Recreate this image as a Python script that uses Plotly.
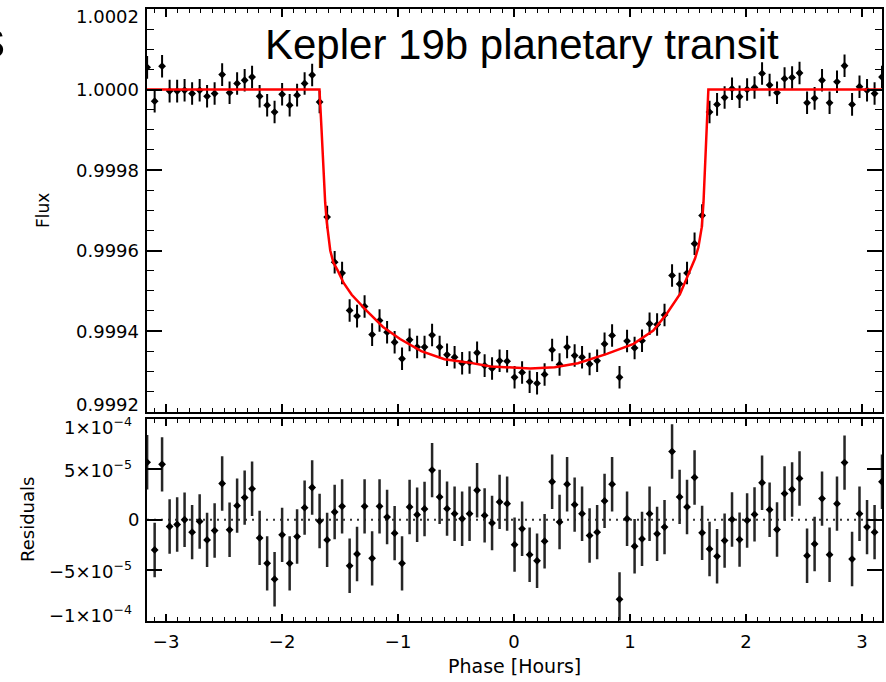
import plotly.graph_objects as go

W, H = 886, 682

# ---------------- data ----------------
phase = [-3.164, -3.099, -3.035, -2.970, -2.905, -2.841, -2.776, -2.711, -2.647, -2.582,
         -2.517, -2.453, -2.388, -2.323, -2.259, -2.194, -2.129, -2.065, -2.000, -1.935,
         -1.871, -1.806, -1.741, -1.677, -1.612, -1.547, -1.483, -1.418, -1.354, -1.289,
         -1.224, -1.160, -1.095, -1.030, -0.966, -0.901, -0.836, -0.772, -0.707, -0.642,
         -0.578, -0.513, -0.448, -0.384, -0.319, -0.254, -0.190, -0.125, -0.060, 0.004,
         0.069, 0.134, 0.198, 0.263, 0.328, 0.392, 0.457, 0.522, 0.586, 0.651,
         0.716, 0.780, 0.845, 0.909, 0.974, 1.039, 1.103, 1.168, 1.233, 1.297,
         1.362, 1.427, 1.491, 1.556, 1.621, 1.685, 1.750, 1.815, 1.879, 1.944,
         2.009, 2.073, 2.138, 2.203, 2.267, 2.332, 2.397, 2.461, 2.526, 2.591,
         2.655, 2.720, 2.784, 2.849, 2.914, 2.978, 3.043, 3.108, 3.172]

flux = [1.000055, 0.999971, 1.000058, 0.999996, 0.999996, 0.999998, 0.999990, 0.999998, 0.999983, 0.999990,
        1.000037, 0.999992, 1.000015, 1.000023, 1.000031, 0.999983, 0.999961, 0.999944, 0.999988, 0.999961,
        0.999986, 1.000015, 1.000036, 0.999969, 0.999683, 0.999571, 0.999544, 0.999451, 0.999437, 0.999461,
        0.999391, 0.999426, 0.999397, 0.999372, 0.999331, 0.999378, 0.999360, 0.999360, 0.999390, 0.999360,
        0.999341, 0.999335, 0.999320, 0.999322, 0.999346, 0.999314, 0.999307, 0.999326, 0.999325, 0.999285,
        0.999297, 0.999274, 0.999270, 0.999292, 0.999353, 0.999317, 0.999360, 0.999339, 0.999335, 0.999318,
        0.999326, 0.999368, 0.999389, 0.999285, 0.999375, 0.999358, 0.999376, 0.999418, 0.999416, 0.999440,
        0.999538, 0.999517, 0.999544, 0.999617, 0.999687, 0.999944, 0.999963, 0.999980, 1.000002, 0.999982,
        1.000000, 1.000005, 1.000040, 1.000011, 0.999992, 1.000027, 1.000030, 1.000041, 0.999967, 0.999978,
        1.000023, 0.999967, 1.000019, 1.000059, 0.999963, 1.000007, 0.999998, 0.999990, 1.000031]

residuals = [5.7e-5, -3.0e-5, 5.5e-5, -0.67e-5, -0.47e-5, 0.0, -1.23e-5, -0.17e-5, -2.0e-5, -1.07e-5,
             3.6e-5, -1.0e-5, 1.4e-5, 2.2e-5, 3.07e-5, -1.8e-5, -4.33e-5, -5.9e-5, -1.5e-5, -4.33e-5,
             -1.67e-5, 1.2e-5, 3.2e-5, -0.13e-5, -2.0e-5, 0.77e-5, 1.33e-5, -4.57e-5, -3.4e-5, 1.33e-5,
             -3.83e-5, 1.33e-5, 0.27e-5, -1.33e-5, -4.33e-5, 1.27e-5, 0.5e-5, 1.07e-5, 4.93e-5, 2.27e-5,
             1.1e-5, 0.6e-5, 0.1e-5, 0.6e-5, 2.93e-5, 0.43e-5, -0.33e-5, 1.77e-5, 1.6e-5, -2.47e-5,
             -0.9e-5, -3.47e-5, -4.07e-5, -2.13e-5, 3.77e-5, -0.23e-5, 3.53e-5, 1.5e-5, 0.6e-5, -1.57e-5,
             -1.23e-5, 1.87e-5, 3.53e-5, -7.9e-5, 0.1e-5, -2.63e-5, -1.9e-5, 0.6e-5, -1.4e-5, -0.73e-5,
             6.77e-5, 2.27e-5, 1.27e-5, 4.2e-5, -1.3e-5, -2.9e-5, -3.63e-5, -2.07e-5, 0.03e-5, -1.97e-5,
             -0.07e-5, 0.53e-5, 3.67e-5, 1.0e-5, -0.97e-5, 2.6e-5, 3.0e-5, 4.1e-5, -3.57e-5, -2.4e-5,
             2.1e-5, -3.47e-5, 1.6e-5, 5.67e-5, -3.9e-5, 0.6e-5, -0.73e-5, -1.23e-5, 3.77e-5]

flux_err = 2.8e-5
res_err = 2.7e-5

model_phase = [-3.17, -1.678, -1.660, -1.645, -1.629, -1.615, -1.600, -1.585, -1.558, -1.520,
               -1.471, -1.400, -1.270, -1.130, -0.983, -0.800, -0.600, -0.400, -0.200, 0.000,
               0.140, 0.350, 0.550, 0.800, 1.030, 1.200, 1.316, 1.431, 1.517, 1.560,
               1.589, 1.618, 1.633, 1.647, 1.662, 1.675, 3.17]
model_flux = [1.0, 1.0, 0.99990, 0.99980, 0.99972, 0.99967, 0.99964, 0.99960, 0.99957, 0.99955,
              0.99952, 0.99949, 0.99945, 0.99941, 0.99938, 0.99935, 0.99933, 0.999322, 0.999312, 0.999308,
              0.999307, 0.99931, 0.99932, 0.999343, 0.999368, 0.999401, 0.999443, 0.999492, 0.99955, 0.99958,
              0.999608, 0.999658, 0.99972, 0.999807, 0.99990, 1.0, 1.0]

phase_ticks = [-3, -2, -1, 0, 1, 2, 3]
flux_ticks = [0.9992, 0.9994, 0.9996, 0.9998, 1.0000, 1.0002]
flux_tick_text = ["0.9992", "0.9994", "0.9996", "0.9998", "1.0000", "1.0002"]
res_ticks = [-1e-4, -5e-5, 0.0, 5e-5, 1e-4]
res_tick_text = ["\u22121\u00d710<sup>\u22124</sup>", "\u22125\u00d710<sup>\u22125</sup>", "0",
                 "5\u00d710<sup>\u22125</sup>", "1\u00d710<sup>\u22124</sup>"]

title_text = "Kepler 19b planetary transit"

# ---------------- layout helpers ----------------
def px_x(p):
    return p / W

def px_y(p):
    return 1 - p / H

XR = [-3.165, 3.172]
FONT = "DejaVu Sans"

fig = go.Figure()

fig.add_trace(go.Scatter(
    x=phase, y=flux, mode="markers", xaxis="x", yaxis="y",
    marker=dict(symbol="diamond", size=6, color="black"),
    error_y=dict(type="constant", value=flux_err, thickness=2, width=0, color="black"),
    showlegend=False, hoverinfo="skip"))

fig.add_trace(go.Scatter(
    x=model_phase, y=model_flux, mode="lines", xaxis="x", yaxis="y",
    line=dict(color="#ff0000", width=2.5), showlegend=False, hoverinfo="skip"))

fig.add_trace(go.Scatter(
    x=phase, y=residuals, mode="markers", xaxis="x2", yaxis="y2",
    marker=dict(symbol="diamond", size=6, color="black"),
    error_y=dict(type="constant", value=res_err, thickness=2.5, width=0, color="#262626"),
    showlegend=False, hoverinfo="skip"))

axis_common = dict(showline=True, linewidth=2, linecolor="black", mirror="allticks",
                   showgrid=False, zeroline=False, ticks="inside", tickcolor="black")

fig.update_layout(
    width=W, height=H, margin=dict(l=0, r=0, t=0, b=0),
    paper_bgcolor="white", plot_bgcolor="white",
    font=dict(family=FONT, color="black", size=17),
    xaxis=dict(domain=[px_x(147), px_x(882)], range=XR, anchor="y",
               tickvals=phase_ticks, showticklabels=False, ticklen=8, tickwidth=1.5,
               minor=dict(ticks="inside", ticklen=4, dtick=0.1, tick0=0, tickcolor="black", tickwidth=1.2),
               **axis_common),
    yaxis=dict(domain=[px_y(411.5), px_y(9)], range=[0.9992, 1.0002], anchor="x",
               tickvals=flux_ticks, showticklabels=False, ticklen=15, tickwidth=1.5,
               minor=dict(ticks="inside", ticklen=7, dtick=0.00005, tick0=0.9992, tickcolor="black", tickwidth=1.2),
               **axis_common),
    xaxis2=dict(domain=[px_x(147), px_x(882)], range=XR, anchor="y2",
                tickvals=phase_ticks, ticklen=7, tickwidth=1.5, ticklabelstandoff=4,
                tickfont=dict(family=FONT, size=18, color="black"),
                minor=dict(ticks="inside", ticklen=4, dtick=0.1, tick0=0, tickcolor="black", tickwidth=1.2),
                **axis_common),
    yaxis2=dict(domain=[px_y(620.5), px_y(419)], range=[-1e-4, 1e-4], anchor="x2",
                tickvals=res_ticks, showticklabels=False, ticklen=15, tickwidth=1.5,
                **axis_common),
)

fig.add_shape(type="line", xref="x2 domain", yref="y2", x0=0, x1=1, y0=0, y1=0,
              line=dict(color="#333333", width=2, dash="2px,5px"), layer="below")

ann = []
# y tick labels, top panel
for v, t in zip(flux_ticks, flux_tick_text):
    shift = 0
    if v == flux_ticks[-1]:
        shift = -8
    elif v == flux_ticks[0]:
        shift = 7
    ann.append(dict(x=px_x(141), xref="paper", y=v, yref="y", text=t, showarrow=False,
                    xanchor="right", yanchor="middle", yshift=shift,
                    font=dict(family=FONT, size=18, color="black")))
# y tick labels, bottom panel
for v, t in zip(res_ticks, res_tick_text):
    shift = 0
    if v == res_ticks[-1]:
        shift = -7
    elif v == res_ticks[0]:
        shift = 7
    xr = 141 if t == "0" else 134
    ann.append(dict(x=px_x(xr), xref="paper", y=v, yref="y2", text=t, showarrow=False,
                    xanchor="right", yanchor="middle", yshift=shift,
                    font=dict(family=FONT, size=18, color="black")))

# axis titles
ann.append(dict(x=px_x(43), y=px_y(211), xref="paper", yref="paper", text="Flux", textangle=-90,
                showarrow=False, xanchor="center", yanchor="middle",
                font=dict(family=FONT, size=17, color="black")))
ann.append(dict(x=px_x(27), y=px_y(520), xref="paper", yref="paper", text="Residuals", textangle=-90,
                showarrow=False, xanchor="center", yanchor="middle",
                font=dict(family=FONT, size=18, color="black")))
ann.append(dict(x=px_x(514), y=px_y(666), xref="paper", yref="paper", text="Phase [Hours]",
                showarrow=False, xanchor="center", yanchor="middle",
                font=dict(family=FONT, size=19, color="black")))

# big title inside the top panel
ann.append(dict(x=px_x(522), y=px_y(45), xref="paper", yref="paper", text=title_text,
                showarrow=False, xanchor="center", yanchor="middle",
                font=dict(family="Liberation Sans", size=42, color="black")))
# clipped letter at the left edge (from the surrounding slide)
ann.append(dict(x=px_x(6.5), y=px_y(39), xref="paper", yref="paper", text="s",
                showarrow=False, xanchor="right", yanchor="middle",
                font=dict(family="Liberation Sans", size=52, color="black")))

fig.update_layout(annotations=ann)

fig.write_html("out.html")
